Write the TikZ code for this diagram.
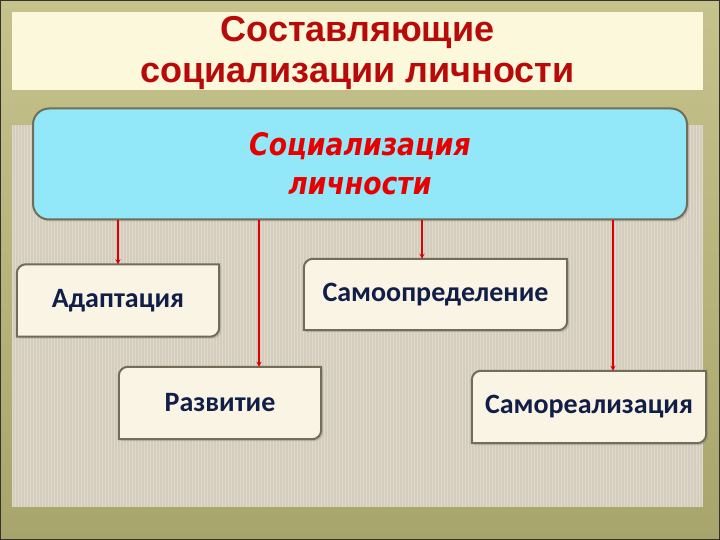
\documentclass[tikz,border=0pt]{standalone}
\usepackage{fontspec}
\usepackage{tikz}
\usetikzlibrary{arrows, shadows, positioning}
\usepackage{xcolor}
\newfontfamily\titlefont{Liberation Sans}
\newfontfamily\socfont[FakeStretch=0.86]{DejaVu Sans}
\newfontfamily\cardfont{Carlito}
\definecolor{frameolive}{RGB}{168, 165, 108}
\definecolor{frametop}{RGB}{198, 194, 140}
\definecolor{linen}{RGB}{212, 204, 188}
\definecolor{linenweave}{RGB}{224, 218, 204}
\definecolor{bandcream}{RGB}{252, 248, 220}
\definecolor{titlered}{RGB}{185, 10, 10}
\definecolor{socred}{RGB}{232, 0, 0}
\definecolor{soccyan}{RGB}{146, 232, 248}
\definecolor{cardcream}{RGB}{250, 244, 228}
\definecolor{cardline}{RGB}{112, 110, 88}
\definecolor{cardnavy}{RGB}{16, 30, 72}
\definecolor{arrowred}{RGB}{222, 0, 0}
\tikzstyle{cardtext} = [minimum height=72pt, inner sep=0pt, text=cardnavy, font=\cardfont\bfseries\fontsize{28}{32}\selectfont]
\tikzstyle{card} = [draw=cardline, line width=2pt, fill=cardcream, drop shadow={opacity=0.3, shadow xshift=2pt, shadow yshift=-2pt}]
\tikzstyle{arrow} = [line width=1.2pt,->,>=stealth,arrowred]
\pgfdeclarelayer{back}
\pgfsetlayers{back,main}
\newcommand{\diagcard}[1]{%
  \draw[card] ([xshift=9pt]#1.north west) -- (#1.north east) -- ([yshift=9pt]#1.south east)
    arc[start angle=0, end angle=-90, radius=9pt] -- (#1.south west) -- ([yshift=-9pt]#1.north west)
    arc[start angle=180, end angle=90, radius=9pt] -- cycle;}

\begin{document}
\begin{tikzpicture}[x=1pt, y=-1pt]
\useasboundingbox (0,0) rectangle (720,540);
\begin{pgfonlayer}{back}
  \shade[top color=frametop, bottom color=frameolive, draw=black!80, line width=1pt] (0.5,0.5) rectangle (719.5,539.5);
  \fill[linen] (12,125) rectangle (703,507);
  \draw[linenweave, line width=0.6pt, step=3] (12,125) grid (703,507);
  \fill[bandcream] (12,12) rectangle (703,90);
\end{pgfonlayer}

% title
\node[align=center, text=titlered, font=\titlefont\bfseries\fontsize{36}{41}\selectfont] (title) at (357.5,53) {Составляющие\\социализации личности};

% main box
\node[draw=cardline, line width=2pt, fill=soccyan, rounded corners=16pt, minimum width=654pt, minimum height=111pt,
      drop shadow={opacity=0.3, shadow xshift=2pt, shadow yshift=-2pt},
      align=center, text=socred, font=\socfont\bfseries\itshape\fontsize{31}{39}\selectfont] (social) at (360,164) {Социализация\\личности};

% components
\node[cardtext, minimum width=202pt] (adapt) at (118,300.5) {Адаптация};
\node[cardtext, minimum width=263pt, minimum height=71pt] (selfdet) at (435.5,294.5) {Самоопределение};
\node[cardtext, minimum width=202pt] (devel) at (220,403) {Развитие};
\node[cardtext, minimum width=234pt] (selfreal) at (589,407) {Самореализация};
\begin{pgfonlayer}{back}
  \foreach \c in {adapt, selfdet, devel, selfreal} {\diagcard{\c}}
\end{pgfonlayer}

\draw[arrow] (social.south -| adapt.north) -- (adapt.north);
\draw[arrow] ([xshift=39pt]devel.north |- social.south) -- ([xshift=39pt]devel.north);
\draw[arrow] ([xshift=-13.5pt]selfdet.north |- social.south) -- ([xshift=-13.5pt]selfdet.north);
\draw[arrow] ([xshift=24pt]selfreal.north |- social.south) -- ([xshift=24pt]selfreal.north);
\end{tikzpicture}
\end{document}
